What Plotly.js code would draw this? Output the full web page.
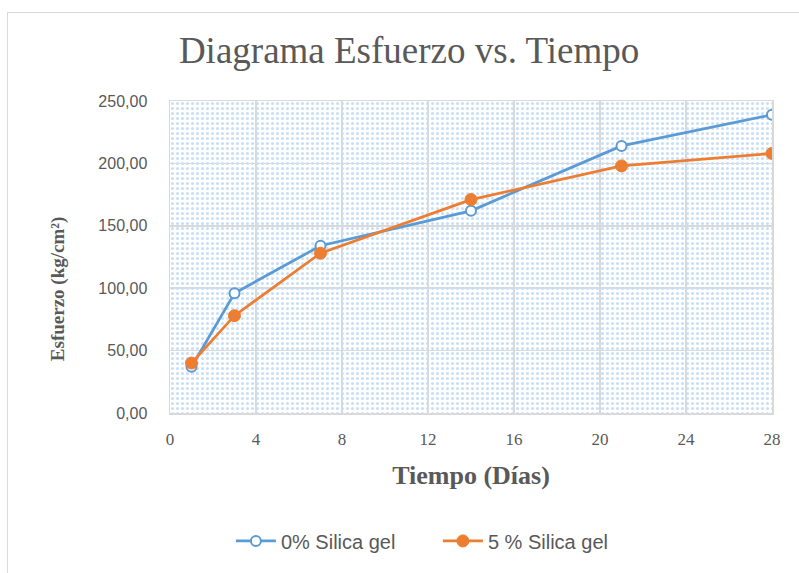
<!DOCTYPE html>
<html>
<head>
<meta charset="utf-8">
<script src="https://cdn.plot.ly/plotly-3.0.1.min.js"></script>
<style>
  html, body { margin: 0; padding: 0; background: #ffffff; }
  #wrap { position: relative; width: 799px; height: 573px; overflow: hidden; }
  #chart { width: 799px; height: 573px; }
  #frame { position: absolute; left: 7px; top: 12px; width: 820px; height: 600px;
           border: 1px solid #d9d9d9; pointer-events: none; }
</style>
</head>
<body>
<div id="wrap">
  <div id="chart"></div>
  <div id="frame"></div>
</div>
<script>
// Data
const days = [1, 3, 7, 14, 21, 28];
const silica0 = [37, 96, 134, 162, 214, 239];
const silica5 = [40, 78, 128, 171, 198, 208];
const seriesNames = ["0% Silica gel", "5 % Silica gel"];
const xTicks = [0, 4, 8, 12, 16, 20, 24, 28];
const yTicks = [0, 50, 100, 150, 200, 250];
const xRange = [0, 28];
const yRange = [0, 250];

const bgPattern = {
  x: [xRange[0], xRange[1], xRange[1], xRange[0], xRange[0]],
  y: [yRange[0], yRange[0], yRange[1], yRange[1], yRange[0]],
  mode: 'lines', line: { width: 0 }, fill: 'toself',
  fillcolor: 'rgba(0,0,0,0)',
  fillpattern: { shape: '.', fgcolor: '#c9dff5', bgcolor: 'rgba(0,0,0,0)', size: 5, solidity: 0.3 },
  hoverinfo: 'skip', showlegend: false
};

const t0 = {
  x: days, y: silica0, name: seriesNames[0], mode: 'lines+markers',
  line: { color: '#5b9bd5', width: 2.75 },
  marker: { symbol: 'circle', size: 10, color: '#ffffff', line: { color: '#5b9bd5', width: 2 } }
};
const t5 = {
  x: days, y: silica5, name: seriesNames[1], mode: 'lines+markers',
  line: { color: '#ed7d31', width: 2.75 },
  marker: { symbol: 'circle', size: 12, color: '#ed7d31', line: { color: '#ed7d31', width: 1 } }
};

const layout = {
  width: 799, height: 573,
  margin: { l: 170, r: 27, t: 101, b: 157 },
  paper_bgcolor: '#ffffff', plot_bgcolor: '#ffffff',
  separators: ',.',
  title: {
    text: 'Diagrama Esfuerzo vs. Tiempo',
    font: { family: 'Liberation Serif, serif', size: 37, color: '#595959' },
    x: 0.512, xanchor: 'center', y: 0.913, yanchor: 'middle'
  },
  xaxis: {
    range: xRange, tickvals: xTicks, ticktext: xTicks.map(String),
    showgrid: true, gridcolor: '#d9d9d9', gridwidth: 1.5,
    zeroline: false, showline: true, linecolor: '#d9d9d9', linewidth: 1.5, mirror: true,
    ticks: 'outside', ticklen: 10, tickcolor: 'rgba(0,0,0,0)',
    tickfont: { family: 'Liberation Serif, serif', size: 17, color: '#595959' },
    title: { text: '<b>Tiempo (Días)</b>', standoff: 18,
             font: { family: 'Liberation Serif, serif', size: 26, color: '#595959' } }
  },
  yaxis: {
    range: yRange, tickvals: yTicks, tickformat: '.2f',
    showgrid: true, gridcolor: '#d9d9d9', gridwidth: 1.5,
    zeroline: false, showline: true, linecolor: '#d9d9d9', linewidth: 1.5, mirror: true,
    ticks: 'outside', ticklen: 18, tickcolor: 'rgba(0,0,0,0)',
    tickfont: { family: 'Liberation Sans Narrow, Liberation Sans, sans-serif', size: 16, color: '#595959' }
  },
  annotations: [{
    text: '<b>Esfuerzo (kg/cm²)</b>', textangle: -90,
    xref: 'paper', yref: 'paper', x: -0.186, y: 0.397, xanchor: 'center', yanchor: 'middle',
    showarrow: false,
    font: { family: 'Liberation Serif, serif', size: 19, color: '#595959' }
  }],
  legend: {
    orientation: 'h', x: 0.445, xanchor: 'center', y: -0.41, yanchor: 'middle',
    font: { family: 'Liberation Sans Narrow, Liberation Sans, sans-serif', size: 20, color: '#595959' },
    itemwidth: 40, tracegroupgap: 0, entrywidth: 152, entrywidthmode: 'pixels',
    bgcolor: 'rgba(0,0,0,0)'
  },
  showlegend: true
};

Plotly.newPlot('chart', [bgPattern, t0, t5], layout, { staticPlot: true, displayModeBar: false });
</script>
</body>
</html>
